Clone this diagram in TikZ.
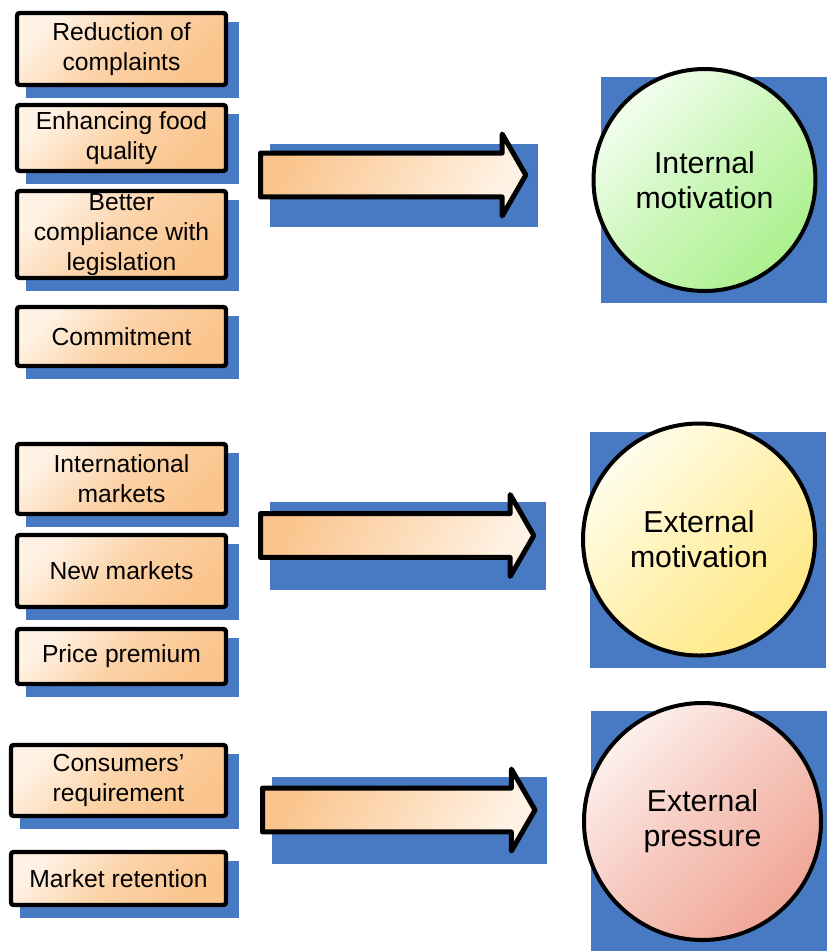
\documentclass[tikz,border=0pt]{standalone}
\usepackage{fontspec}
\setmainfont{Liberation Sans}
\usetikzlibrary{shapes.arrows,backgrounds}
\definecolor{shadowBlue}{RGB}{72,122,196}
\definecolor{peachDark}{RGB}{250,196,140}
\definecolor{peachLight}{RGB}{255,242,228}
\definecolor{mintDark}{RGB}{172,240,142}
\definecolor{mintLight}{RGB}{242,254,238}
\definecolor{lemonDark}{RGB}{255,232,132}
\definecolor{lemonLight}{RGB}{255,253,236}
\definecolor{roseDark}{RGB}{240,166,150}
\definecolor{roseLight}{RGB}{253,240,237}

\begin{document}
\begin{tikzpicture}[x=0.75pt, y=-0.75pt,
    factor/.style={rectangle, rounded corners=2pt, draw=black, line width=3.3pt,
                   top color=peachLight, bottom color=peachDark,
                   middle color=peachDark!70!peachLight, shading angle=45,
                   minimum width=156.75pt, inner sep=0pt, align=center,
                   font=\fontsize{18.5}{22.5}\selectfont},
    push/.style={single arrow, draw=black, line width=3.75pt, line join=round,
                 top color=peachDark, bottom color=peachLight, shading angle=60,
                 single arrow tip angle=120, single arrow head extend=14.25pt,
                 inner xsep=0pt, inner ysep=14.6pt, outer sep=0pt, anchor=tail},
    motive/.style={circle, draw=black, line width=3pt, inner sep=0pt, align=center,
                   font=\fontsize{22.7}{26.25}\selectfont}
  ]
  \useasboundingbox (0,0) rectangle (826,951);

  % internal drivers
  \node[factor, minimum height=54pt]    (complaints) at (121.5,49)    {Reduction of\\complaints};
  \node[factor, minimum height=49.5pt]  (quality)    at (121.5,138)   {Enhancing food\\quality};
  \node[factor, minimum height=65.25pt] (legis)      at (121.5,234.5) {Better\\compliance with\\legislation};
  \node[factor, minimum height=44.25pt] (commit)     at (121.5,336.5) {Commitment};
  % external drivers
  \node[factor, minimum height=52.5pt]  (intl)       at (121.5,479)   {International\\markets};
  \node[factor, minimum height=54pt]    (newmkt)     at (121.5,571)   {New markets};
  \node[factor, minimum height=41.25pt] (premium)    at (121.5,656.5) {Price premium};
  % pressure
  \node[factor, minimum height=53.25pt, minimum width=161.25pt] (consumer) at (118.5,780.5) {Consumers’\\requirement};
  \node[factor, minimum height=39.75pt, minimum width=161.25pt] (retain)   at (118.5,878.5) {Market retention};

  % arrows
  \node[push, minimum height=199pt]   (toInt)   at (260.5,175)   {};
  \node[push, minimum height=205pt]   (toExt)   at (260.5,535.5) {};
  \node[push, minimum height=204.4pt] (toPress) at (262.5,810)   {};

  % motivations
  \node[motive, minimum size=166.5pt, top color=mintLight, bottom color=mintDark,
        middle color=mintDark!55!mintLight, shading angle=45]
    (internal) at (704.5,180) {Internal\\motivation};
  \node[motive, minimum size=174pt, top color=lemonLight, bottom color=lemonDark,
        middle color=lemonDark!55!lemonLight, shading angle=45]
    (external) at (699,539.5) {External\\motivation};
  \node[motive, minimum size=177.75pt, top color=roseLight, bottom color=roseDark,
        middle color=roseDark!55!roseLight, shading angle=45]
    (pressure) at (702.5,821.5) {External\\pressure};

  % blue shadows
  \begin{scope}[on background layer]
    \foreach \n in {complaints,quality,legis,commit,intl,newmkt,premium,consumer,retain}
      \fill[shadowBlue] ([shift={(11,11)}]\n.north west) rectangle ([shift={(11,11)}]\n.south east);
    \foreach \n in {internal,external,pressure}
      \fill[shadowBlue] ([shift={(9,10)}]\n.west |- \n.north) rectangle ([shift={(9,10)}]\n.east |- \n.south);
    \foreach \a/\h in {toInt/41,toExt/43.5,toPress/43}
      \fill[shadowBlue] ([shift={(9,-\h+9.5)}]\a.tail) rectangle ([shift={(12,\h+11)}]\a.tip);
  \end{scope}
\end{tikzpicture}
\end{document}
